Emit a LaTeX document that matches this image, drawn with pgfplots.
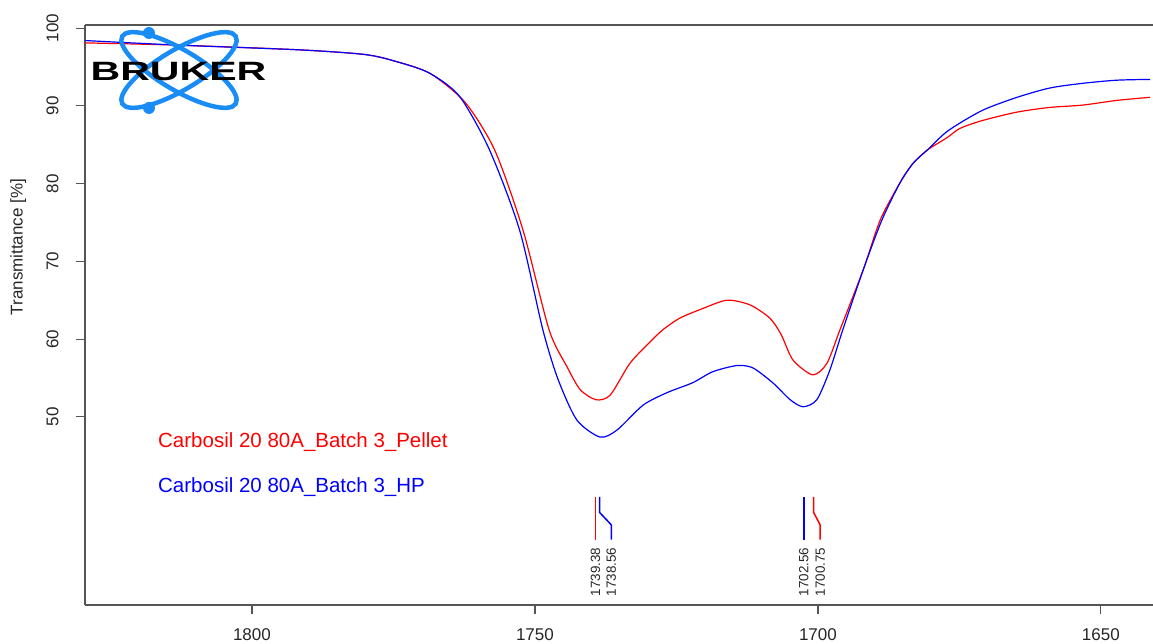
\documentclass[border=0pt]{standalone}
\usepackage{pgfplots}
\pgfplotsset{compat=1.18}
\usepackage{fontspec}
\setmainfont{Liberation Sans}
\definecolor{axgray}{RGB}{85,85,85}
\definecolor{brukerblue}{RGB}{25,140,245}
\begin{document}
\begin{tikzpicture}
\begin{axis}[
  at={(0,0)}, anchor=south west,
  scale only axis, width=1068pt, height=580pt,
  x dir=reverse, xmin=1640.8, xmax=1829.5, ymin=25.8, ymax=100.4,
  axis x line*=bottom, axis y line*=left,
  axis line style={draw=axgray, line width=1.4pt, -},
  xtick={1650,1700,1750,1800}, ytick={50,60,...,100},
  tick align=outside, major tick length=9pt,
  tick style={draw=axgray, line width=1.2pt},
  tick label style={font=\fontsize{17}{17}\selectfont, text=black!85},
  /pgf/number format/assume math mode=true,
  /pgf/number format/1000 sep={},
  xticklabel style={yshift=-11pt},
  yticklabel style={rotate=90, anchor=south, yshift=14pt},
  ylabel={Transmittance [\%]},
  ylabel style={font=\fontsize{17}{17}\selectfont, text=black!85, at={(rel axis cs:-0.0625,0.617)}, anchor=center},
  clip=false,
]
\draw[axgray, line width=1.4pt] (rel axis cs:0,1) -- (rel axis cs:1,1);

% Pellet (red)
\addplot[red, line width=1.2pt, smooth, tension=0.45] coordinates {
(1829.5,98.1) (1812.7,97.8) (1791.5,97.2) (1780.0,96.6) (1774.5,95.7)
(1768.6,94.2) (1762.4,90.5) (1757.1,84.3) (1752.1,74.0) (1747.5,61.2)
(1744.3,56.4) (1742.0,53.5) (1739.2,52.2) (1736.7,52.8) (1733.2,56.9)
(1729.7,59.6) (1727.4,61.2) (1724.4,62.7) (1720.8,63.8) (1716.1,65.0)
(1712.0,64.4) (1708.5,62.7) (1706.5,60.6) (1704.4,57.3) (1700.9,55.4)
(1698.4,56.9) (1696.1,61.2) (1692.0,68.9) (1689.0,75.3) (1685.5,80.1)
(1683.2,82.6) (1680.7,84.3) (1677.2,85.9) (1674.9,87.1) (1671.0,88.1)
(1664.8,89.2) (1659.0,89.8) (1653.2,90.1) (1647.2,90.7) (1641.3,91.1)
};
% HP (blue)
\addplot[blue, line width=1.2pt, smooth, tension=0.45] coordinates {
(1829.5,98.4) (1812.7,97.8) (1791.5,97.2) (1780.0,96.6) (1774.5,95.7)
(1768.6,94.2) (1763.3,91.2) (1758.0,84.3) (1752.7,74.0) (1748.6,61.2)
(1745.9,54.8) (1742.6,49.6) (1738.5,47.4) (1735.5,48.3) (1730.9,51.5)
(1726.7,53.1) (1722.1,54.4) (1718.6,55.8) (1714.3,56.6) (1711.5,56.3)
(1708.0,54.4) (1704.9,52.2) (1702.6,51.3) (1700.2,52.2) (1697.9,56.0)
(1695.6,61.2) (1692.0,68.9) (1688.7,75.3) (1685.5,80.1) (1683.2,82.6)
(1680.7,84.3) (1677.0,86.8) (1671.0,89.4) (1664.8,91.1) (1659.0,92.3)
(1653.2,92.9) (1647.2,93.3) (1641.3,93.4)
};

% peak markers
\addplot[red, line width=1.5pt] coordinates {(1739.3,39.7) (1739.3,34.2)};
\addplot[blue, line width=1.5pt] coordinates {(1738.56,39.7) (1738.56,37.7) (1736.5,36.1) (1736.5,34.2)};
\addplot[blue, line width=1.5pt] coordinates {(1702.5,39.7) (1702.5,34.2)};
\addplot[red, line width=1.5pt] coordinates {(1700.75,39.7) (1700.75,37.7) (1699.6,36.1) (1699.6,34.2)};

\node[rotate=90, anchor=west, inner sep=0pt, font=\fontsize{13.4}{13.4}\selectfont, text=black!85] at (axis cs:1739.3,26.9) {1739.38};
\node[rotate=90, anchor=west, inner sep=0pt, font=\fontsize{13.4}{13.4}\selectfont, text=black!85] at (axis cs:1736.5,26.9) {1738.56};
\node[rotate=90, anchor=west, inner sep=0pt, font=\fontsize{13.4}{13.4}\selectfont, text=black!85] at (axis cs:1702.5,26.9) {1702.56};
\node[rotate=90, anchor=west, inner sep=0pt, font=\fontsize{13.4}{13.4}\selectfont, text=black!85] at (axis cs:1699.6,26.9) {1700.75};

\node[anchor=west, inner sep=0pt, text=red, font=\fontsize{20.5}{20.5}\selectfont] at (axis cs:1816.6,46.8) {Carbosil 20 80A\_Batch 3\_Pellet};
\node[anchor=west, inner sep=0pt, text=blue, font=\fontsize{20.5}{20.5}\selectfont] at (axis cs:1816.6,41.0) {Carbosil 20 80A\_Batch 3\_HP};
\end{axis}

% Bruker logo
\draw[brukerblue, line width=4.5pt, rotate around={-30.7:(94pt,535pt)}] (94pt,535pt) ellipse [x radius=66pt, y radius=20pt];
\draw[brukerblue, line width=4.5pt, rotate around={30.7:(94pt,535pt)}] (94pt,535pt) ellipse [x radius=66pt, y radius=20pt];
\fill[brukerblue] (64pt,572pt) circle (6pt);
\fill[brukerblue] (64pt,497pt) circle (6pt);
\node[font=\bfseries\fontsize{26.5}{26.5}\selectfont, xscale=1.55, inner sep=0pt] at (93.5pt,533.5pt) {BRUKER};

\pgfresetboundingbox
\path (-85pt,-38pt) rectangle (1068pt,605pt);
\end{tikzpicture}
\end{document}
